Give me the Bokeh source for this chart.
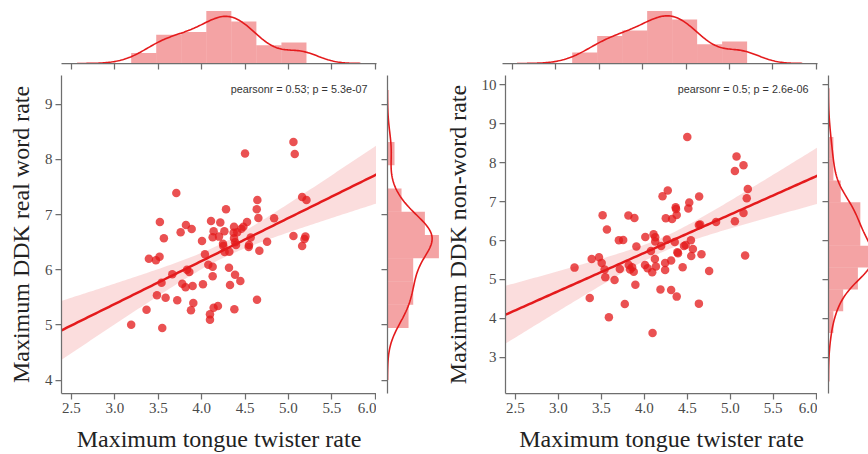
import numpy as np
from bokeh.plotting import figure
from bokeh.models import Range1d, FixedTicker, Label, NumeralTickFormatter
from bokeh.layouts import row, column
from bokeh.embed import file_html
from bokeh.resources import INLINE

# ---------------- data ----------------
tongue_real = [3.188, 3.546, 3.365, 3.485, 3.585, 3.719, 3.538, 3.662, 3.392, 3.473,
               3.515, 3.519, 3.565, 3.708, 3.758, 3.819, 3.885, 3.777, 3.815, 3.896,
               3.831, 3.858, 3.904, 3.877, 4.015, 4.004, 4.038, 4.077, 4.127, 4.127,
               4.108, 4.138, 4.127, 4.200, 4.215, 4.262, 4.281, 4.246, 4.250, 4.265,
               4.319, 4.315, 4.327, 4.096, 4.096, 4.138, 4.188, 4.377, 4.385, 4.446,
               4.373, 4.369, 4.373, 4.385, 4.396, 4.458, 4.481, 4.523, 4.500, 4.542,
               4.546, 4.565, 4.638, 4.642, 4.635, 4.654, 4.665, 4.754, 4.835, 5.058,
               5.073, 5.058, 5.158, 5.208, 5.158, 5.185, 5.196, 4.410]
ddk_real = [5.004, 4.943, 5.276, 5.536, 5.493, 5.445, 5.765, 5.917, 6.201, 6.171,
            6.237, 6.866, 6.570, 7.392, 6.678, 6.811, 6.739, 5.747, 5.681, 5.705,
            6.001, 5.959, 5.397, 5.264, 5.735, 6.521, 6.279, 6.092, 6.056, 5.880,
            6.884, 6.696, 6.588, 6.600, 6.854, 6.696, 7.096, 6.473, 6.431, 6.322,
            6.328, 6.037, 5.723, 5.191, 5.094, 5.312, 5.342, 5.282, 5.911, 5.796,
            6.781, 6.672, 6.570, 6.497, 6.449, 6.744, 6.781, 6.866, 8.105, 6.412,
            6.449, 6.582, 5.457, 7.265, 7.096, 6.938, 6.346, 6.509, 6.932, 8.317,
            8.099, 6.612, 7.319, 7.265, 6.431, 6.557, 6.600, 6.680]

tongue_non = [3.188, 3.365, 3.388, 3.473, 3.504, 3.515, 3.565, 3.538, 3.546, 3.588,
              3.654, 3.704, 3.754, 3.715, 3.815, 3.885, 3.819, 3.858, 3.835, 3.877,
              3.773, 3.896, 3.908, 4.012, 4.008, 4.038, 4.092, 4.096, 4.077, 4.108,
              4.127, 4.127, 4.123, 4.135, 4.188, 4.196, 4.212, 4.273, 4.250, 4.262,
              4.242, 4.242, 4.312, 4.312, 4.377, 4.323, 4.365, 4.369, 4.377, 4.354,
              4.385, 4.392, 4.446, 4.462, 4.481, 4.500, 4.523, 4.512, 4.542, 4.565,
              4.546, 4.638, 4.635, 4.650, 4.665, 4.635, 4.754, 4.835, 5.054, 5.073,
              5.154, 5.204, 5.192, 5.154, 5.054, 5.173]
ddk_non = [5.304, 4.524, 5.527, 5.570, 5.424, 6.650, 6.281, 5.253, 5.056, 4.027,
           4.987, 6.007, 6.015, 5.270, 6.641, 6.581, 5.373, 5.313, 5.253, 5.201,
           4.370, 4.867, 5.844, 6.093, 5.373, 5.287, 5.184, 3.625, 5.733, 6.161,
           6.084, 5.973, 5.527, 5.330, 4.739, 5.861, 7.138, 7.284, 6.572, 6.024,
           5.424, 5.244, 5.484, 4.730, 4.559, 6.555, 6.855, 6.812, 6.658, 5.964,
           5.698, 5.673, 5.313, 5.861, 5.887, 8.663, 6.975, 6.821, 6.007, 5.784,
           5.604, 7.130, 6.401, 6.410, 5.647, 4.379, 5.219, 6.478, 7.789, 8.158,
           7.935, 7.327, 7.087, 6.709, 6.495, 5.613]

x_ticks = [2.5, 3.0, 3.5, 4.0, 4.5, 5.0, 5.5, 6.0]
real_y_ticks = [4, 5, 6, 7, 8, 9]
non_y_ticks = [3, 4, 5, 6, 7, 8, 9, 10]
x_limits = (2.385, 6.015)
real_y_limits = (3.757, 9.52)
non_y_limits = (2.07, 10.24)
x_bins = 7
real_bins = 8
non_bins = 9
x_label = "Maximum tongue twister rate"
real_y_label = "Maximum DDK real word rate"
non_y_label = "Maximum DDK non-word rate"
real_stat = "pearsonr = 0.53; p = 5.3e-07"
non_stat = "pearsonr = 0.5; p = 2.6e-06"

# ---------------- style ----------------
RED = "#e41a1c"
AXC = "#6e6e6e"
SERIF = "Liberation Serif"
SANS = "Liberation Sans"


def scott_bw(d):
    d = np.asarray(d, float)
    std = np.std(d, ddof=1)
    q75, q25 = np.percentile(d, [75, 25])
    a = min(std, (q75 - q25) / 1.349)
    return 1.059 * a * len(d) ** (-0.2)


def kde_curve(d, n=200):
    d = np.asarray(d, float)
    bw = scott_bw(d)
    g = np.linspace(d.min() - 3 * bw, d.max() + 3 * bw, n)
    z = (g[:, None] - d[None, :]) / bw
    k = np.exp(-0.5 * z ** 2).sum(axis=1) / (len(d) * bw * np.sqrt(2 * np.pi))
    return g, k


def style_axis(ax, ticks, fmt=None, show_labels=True):
    ax.ticker = FixedTicker(ticks=ticks)
    ax.minor_tick_line_color = None
    ax.major_tick_in = 0
    ax.major_tick_out = 6
    ax.axis_line_color = AXC
    ax.axis_line_width = 1.25
    ax.major_tick_line_color = AXC
    ax.major_tick_line_width = 1.25
    if fmt is not None:
        ax.formatter = NumeralTickFormatter(format=fmt)
    if show_labels:
        ax.major_label_text_font = SERIF
        ax.major_label_text_font_size = "15px"
        ax.major_label_text_color = "#4a4a4a"
        ax.major_label_standoff = 3
    else:
        # marginal axes: line and ticks only, tick labels not drawn
        ax.major_label_text_font_size = "1px"
        ax.major_label_text_color = None
        ax.major_label_standoff = 0


def base_fig(**kw):
    p = figure(output_backend="svg", toolbar_location=None, **kw)
    p.xgrid.visible = False
    p.ygrid.visible = False
    p.outline_line_color = None
    p.background_fill_color = "white"
    p.border_fill_color = "white"
    return p


def joint_block(x, y, y_limits, y_ticks, y_label, stat, nbins_x, nbins_y, right_w):
    x = np.asarray(x, float)
    y = np.asarray(y, float)
    xr = Range1d(*x_limits)
    yr = Range1d(*y_limits)

    # ----- main scatter / regression -----
    pm = base_fig(width=376, height=379, x_range=xr, y_range=yr,
                  min_border_left=61, min_border_right=0,
                  min_border_top=0, min_border_bottom=61)
    xs = np.linspace(x_limits[0], x_limits[1], 120)
    slope, icpt = np.polyfit(x, y, 1)
    fit = icpt + slope * xs
    n = len(x)
    resid = y - (icpt + slope * x)
    s = np.sqrt((resid ** 2).sum() / (n - 2))
    sxx = ((x - x.mean()) ** 2).sum()
    half = 1.99 * s * np.sqrt(1.0 / n + (xs - x.mean()) ** 2 / sxx)
    pm.scatter(x, y, size=8.5, fill_color=RED, fill_alpha=0.76, line_color=None)
    pm.varea(x=xs, y1=fit - half, y2=fit + half, fill_color=RED, fill_alpha=0.15)
    pm.line(xs, fit, line_color=RED, line_width=2.5)
    style_axis(pm.xaxis[0], x_ticks, fmt="0.0")
    style_axis(pm.yaxis[0], y_ticks, fmt="0")
    for ax, lab in ((pm.xaxis[0], x_label), (pm.yaxis[0], y_label)):
        ax.axis_label = lab
        ax.axis_label_text_font = SERIF
        ax.axis_label_text_font_style = "normal"
        ax.axis_label_text_font_size = "24px"
        ax.axis_label_text_color = "#222222"
    pm.xaxis[0].axis_label_standoff = 10
    pm.yaxis[0].axis_label_standoff = 8
    pm.add_layout(Label(x=x_limits[1], y=y_limits[1], x_offset=-9, y_offset=-13,
                        text=stat, text_align="right", text_baseline="middle",
                        text_font=SANS, text_font_size="10.8px", text_color="#333333"))

    # ----- top marginal -----
    dens, edges = np.histogram(x, bins=nbins_x, density=True)
    g, k = kde_curve(x)
    top_max = 1.05 * max(dens.max(), k.max())
    pt = base_fig(width=376 + 11 + right_w, height=75, x_range=xr,
                  y_range=Range1d(0, top_max), y_axis_location=None,
                  min_border_left=61, min_border_right=11 + right_w,
                  min_border_top=8, min_border_bottom=12)
    pt.quad(left=edges[:-1], right=edges[1:], bottom=0, top=dens,
            fill_color=RED, fill_alpha=0.4, line_color=None)
    pt.line(g, k, line_color=RED, line_width=1.6)
    style_axis(pt.xaxis[0], x_ticks, show_labels=False)

    # ----- right marginal -----
    densy, edgesy = np.histogram(y, bins=nbins_y, density=True)
    gy, ky = kde_curve(y)
    right_max = 1.05 * max(densy.max(), ky.max())
    visible = right_w / 54.0
    pr = base_fig(width=11 + right_w, height=379, y_range=yr,
                  x_range=Range1d(0, right_max * visible), x_axis_location=None,
                  min_border_left=11, min_border_right=0,
                  min_border_top=0, min_border_bottom=61)
    pr.quad(left=0, right=densy, bottom=edgesy[:-1], top=edgesy[1:],
            fill_color=RED, fill_alpha=0.4, line_color=None)
    pr.line(ky, gy, line_color=RED, line_width=1.6)
    style_axis(pr.yaxis[0], y_ticks, show_labels=False)

    return column(pt, row(pm, pr, spacing=0), spacing=0)


left = joint_block(tongue_real, ddk_real, real_y_limits, real_y_ticks, real_y_label,
                   real_stat, x_bins, real_bins, 54)
right = joint_block(tongue_non, ddk_non, non_y_limits, non_y_ticks, non_y_label,
                    non_stat, x_bins, non_bins, 40)
p = row(left, right, spacing=0)

open("out.html", "w").write(file_html(p, INLINE))
